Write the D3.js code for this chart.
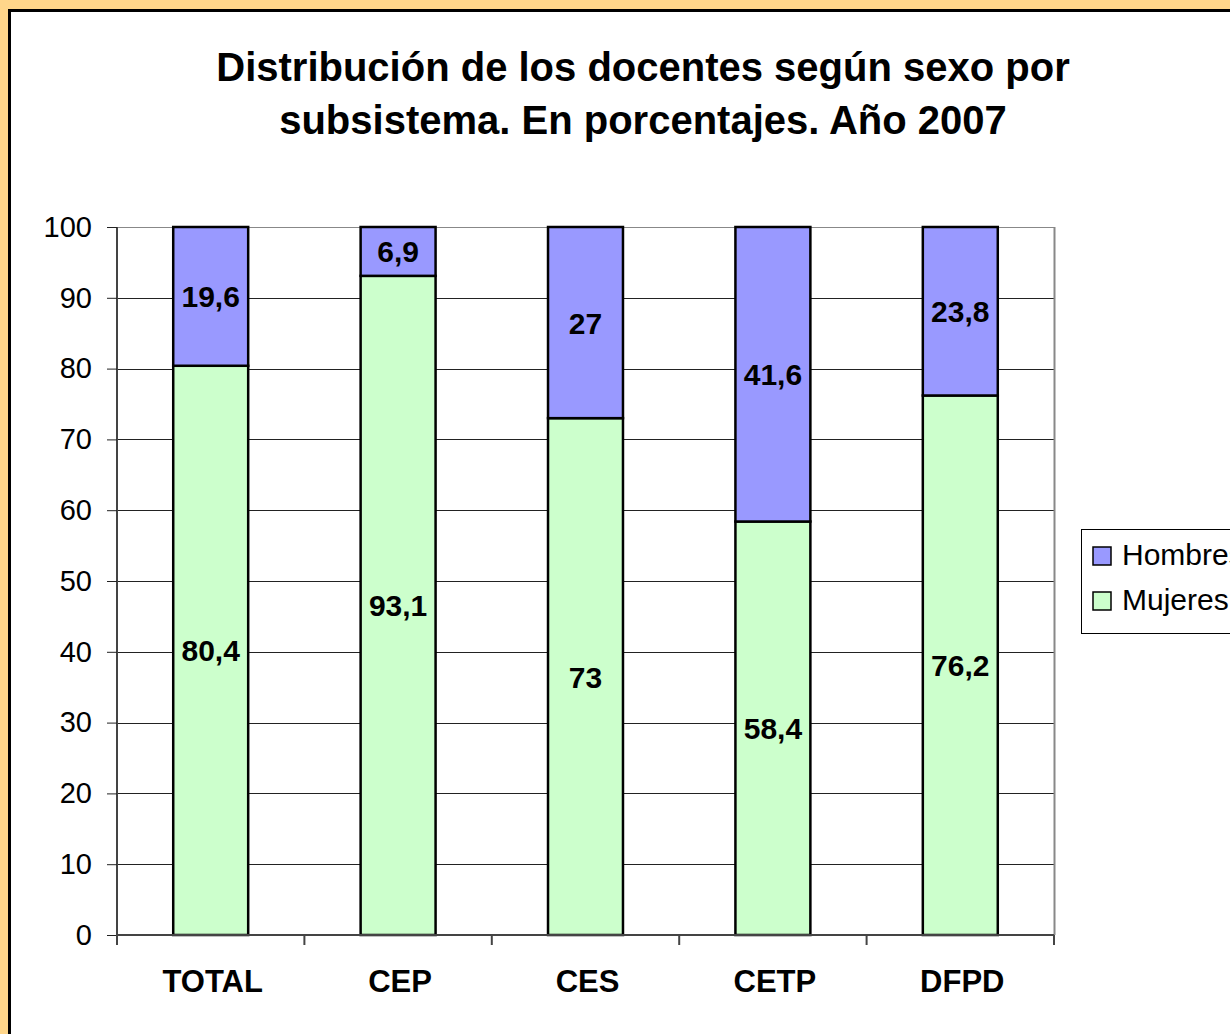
<!DOCTYPE html>
<html>
<head>
<meta charset="utf-8">
<script src="https://cdn.jsdelivr.net/npm/d3@7"></script>
<style>
  body { margin: 0; background: #FFD68A; }
  svg { display: block; }
</style>
</head>
<body>
<svg id="chart"></svg>
<script>
let categories = ["TOTAL", "CEP", "CES", "CETP", "DFPD"];
let mujeres = [80.4, 93.1, 73, 58.4, 76.2];
let hombres = [19.6, 6.9, 27, 41.6, 23.8];
let yTicks = [0, 10, 20, 30, 40, 50, 60, 70, 80, 90, 100];
let seriesNames = ["Hombres", "Mujeres"];

let width = 1230;
let height = 1034;
let font = "'Liberation Sans', Arial, sans-serif";
let svg = d3.select("#chart").attr("width", width).attr("height", height);

// white panel
svg.append("rect")
  .attr("x", 9.5).attr("y", 10.5)
  .attr("width", 1240).attr("height", 1040)
  .attr("fill", "#fff")
  .attr("stroke", "#000")
  .attr("stroke-width", 3);

// title
let title = svg.append("text")
  .attr("text-anchor", "middle")
  .attr("font-family", font)
  .attr("font-weight", "bold")
  .attr("font-size", 40);
title.append("tspan").attr("x", 643).attr("y", 81).text("Distribución de los docentes según sexo por");
title.append("tspan").attr("x", 643).attr("y", 134).text("subsistema. En porcentajes. Año 2007");

let plotL = 117, plotR = 1054, plotT = 227, plotB = 935;

let x = d3.scaleBand().domain(categories).range([plotL, plotR]).paddingInner(0.6).paddingOuter(0.3);
let y = d3.scaleLinear().domain([0, 100]).range([plotB, plotT]);

// gridlines
svg.append("g").selectAll("line")
  .data(yTicks)
  .enter()
  .append("line")
  .attr("x1", plotL).attr("x2", plotR)
  .attr("y1", d => Math.round(y(d)) + 0.5)
  .attr("y2", d => Math.round(y(d)) + 0.5)
  .attr("stroke", d => d == 100 ? "#888" : "#222")
  .attr("stroke-width", 1);

// right border of plot
svg.append("line")
  .attr("x1", plotR + 0.5).attr("x2", plotR + 0.5)
  .attr("y1", plotT).attr("y2", plotB)
  .attr("stroke", "#888").attr("stroke-width", 2);

// stacked data
let rows = categories.map((c, i) => ({cat: c, Mujeres: mujeres[i], Hombres: hombres[i]}));
let stack = d3.stack().keys(["Mujeres", "Hombres"])(rows);
let colors = {Mujeres: "#CCFFCC", Hombres: "#9999FF"};

let layers = svg.append("g").selectAll("g")
  .data(stack)
  .enter()
  .append("g")
  .attr("fill", d => colors[d.key]);

layers.selectAll("rect")
  .data(d => d)
  .enter()
  .append("rect")
  .attr("x", d => x(d.data.cat))
  .attr("width", x.bandwidth())
  .attr("y", d => y(d[1]))
  .attr("height", d => y(d[0]) - y(d[1]))
  .attr("stroke", "#000")
  .attr("stroke-width", 2.5);

// data labels
layers.selectAll("text")
  .data(d => d)
  .enter()
  .append("text")
  .attr("x", d => x(d.data.cat) + x.bandwidth() / 2)
  .attr("y", d => y((d[0] + d[1]) / 2) + 11)
  .attr("text-anchor", "middle")
  .attr("font-family", font)
  .attr("font-weight", "bold")
  .attr("font-size", 30)
  .attr("fill", "#000")
  .text(d => String(+(d[1] - d[0]).toFixed(1)).replace(".", ","));

// y axis
let yAxis = svg.append("g")
  .attr("transform", "translate(" + plotL + ",0)")
  .call(d3.axisLeft(y).tickValues(yTicks).tickSize(10).tickPadding(15));
yAxis.selectAll("text")
  .attr("font-family", font)
  .attr("font-size", 29)
  .attr("fill", "#000");
yAxis.selectAll("line").attr("stroke", "#222");
yAxis.select(".domain").attr("stroke", "#444").attr("stroke-width", 2).attr("d", "M0," + plotT + "V" + plotB);

// x axis
let xAxis = svg.append("g")
  .attr("transform", "translate(0," + plotB + ")");
xAxis.append("line")
  .attr("x1", plotL).attr("x2", plotR)
  .attr("stroke", "#444").attr("stroke-width", 2);
let edges = [plotL].concat(categories.map(c => x(c) + x.bandwidth() / 2 + x.step() / 2));
xAxis.selectAll(".tk")
  .data(edges)
  .enter()
  .append("line")
  .attr("class", "tk")
  .attr("x1", d => d).attr("x2", d => d)
  .attr("y1", 0).attr("y2", 10)
  .attr("stroke", "#444").attr("stroke-width", 2);
xAxis.selectAll(".lbl")
  .data(categories)
  .enter()
  .append("text")
  .attr("class", "lbl")
  .attr("x", d => x(d) + x.bandwidth() / 2 + 2)
  .attr("y", 57)
  .attr("text-anchor", "middle")
  .attr("font-family", font)
  .attr("font-weight", "bold")
  .attr("font-size", 31)
  .text(d => d);

// legend
let legend = svg.append("g");
legend.append("rect")
  .attr("x", 1081.5).attr("y", 529.5)
  .attr("width", 200).attr("height", 104)
  .attr("fill", "#fff").attr("stroke", "#000").attr("stroke-width", 1);
let li = legend.selectAll(".li")
  .data(seriesNames)
  .enter()
  .append("g")
  .attr("class", "li")
  .attr("transform", (d, i) => "translate(1093," + (547 + i * 45) + ")");
li.append("rect")
  .attr("width", 18).attr("height", 18)
  .attr("fill", d => colors[d])
  .attr("stroke", "#000").attr("stroke-width", 1.5);
li.append("text")
  .attr("x", 29).attr("y", 18)
  .attr("font-family", font)
  .attr("font-size", 30)
  .text(d => d);
</script>
</body>
</html>
